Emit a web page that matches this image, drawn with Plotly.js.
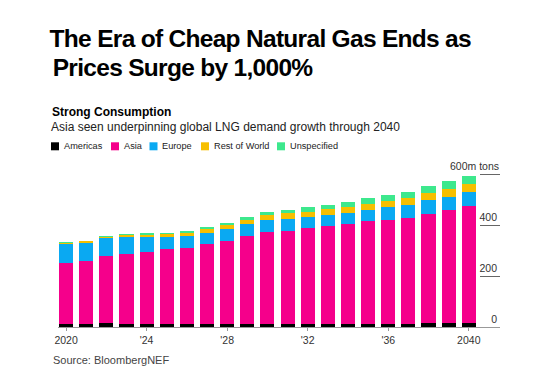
<!DOCTYPE html>
<html>
<head>
<meta charset="utf-8">
<script src="https://cdn.plot.ly/plotly-3.0.1.min.js"></script>
<style>
  html, body { margin: 0; padding: 0; background: #fff; }
  #chart { width: 558px; height: 384px; }
  .annotation[data-index="0"] text, .annotation[data-index="1"] text { letter-spacing: -0.7px; }
</style>
</head>
<body>
<div id="chart"></div>
<script>
// ---- data (million tons of LNG demand) ----
const years = [2020,2021,2022,2023,2024,2025,2026,2027,2028,2029,2030,2031,2032,2033,2034,2035,2036,2037,2038,2039,2040];
const americas    = [12,12,17,12,12,12,12,12,12,12,12,12,13,13,13,13,13,13,15,15,16];
const asia        = [239,247,263,275,285,296,301,315,328,346,363,368,376,383,392,403,410,418,432,444,459];
const europe      = [76,71,70,67,59,47,45,44,47,46,47,47,46,47,46,43,48,49,55,55,56];
const restOfWorld = [4,8,3,7,7,11,13,14,14,18,20,21,20,20,21,25,25,28,27,29,33];
const unspecified = [5,2,7,6,7,6,8,9,9,13,13,12,16,18,21,24,24,23,28,32,32];

const seriesNames  = ["Americas","Asia","Europe","Rest of World","Unspecified"];
const seriesValues = [americas, asia, europe, restOfWorld, unspecified];
const xTickVals = [2020,2024,2028,2032,2036,2040];
const xTickText = ["2020","'24","'28","'32","'36","2040"];
const yTickVals = [0,200,400,600];
const yTickText = ["0","200","400",""];   // top label carries the unit, drawn below
const yTopLabel = "600m tons";

const titleLines = ["The Era of Cheap Natural Gas Ends as","Prices Surge by 1,000%"];
const subtitle = "Strong Consumption";
const subtitle2 = "Asia seen underpinning global LNG demand growth through 2040";
const source = "Source: BloombergNEF";

// ---- styles ----
const colors = ["#000000","#f5008b","#0aa9f2","#f7bf00","#3de88d"];
const FONT = "Liberation Sans, Arial, Helvetica, sans-serif";
const L = 58, R = 500, T = 150, B = 327;
const UNIT_PX = 0.25383;               // pixels per million tons
const yMax = (B - T) / UNIT_PX;
const px2x = p => (p - L) / (R - L);
const px2y = p => (B - p) / (B - T);

const traces = seriesNames.map((name, i) => ({
  type: "bar",
  name: name,
  x: years,
  y: seriesValues[i],
  marker: { color: colors[i], line: { width: 0 } },
  hoverinfo: "x+y+name"
}));

const annotations = [];
// title lines: centred on their target span (letter-spacing tightened via CSS)
const titleCenterX = [260.5, 182];
const titleY = [38.5, 67];
titleLines.forEach((t, i) => annotations.push({
  text: "<b>" + t + "</b>", xref: "paper", yref: "paper",
  x: px2x(titleCenterX[i]), y: px2y(titleY[i]), xanchor: "center", yanchor: "middle",
  showarrow: false, font: { family: FONT, size: 24.5, color: "#000" }
}));
annotations.push({
  text: "<b>" + subtitle + "</b>", xref: "paper", yref: "paper",
  x: px2x(50), y: px2y(111.5), xanchor: "left", yanchor: "middle",
  showarrow: false, font: { family: FONT, size: 12, color: "#000" }
});
annotations.push({
  text: subtitle2, xref: "paper", yref: "paper",
  x: px2x(49), y: px2y(127.5), xanchor: "left", yanchor: "middle",
  showarrow: false, font: { family: FONT, size: 12, color: "#222" }
});
annotations.push({
  text: source, xref: "paper", yref: "paper",
  x: px2x(51), y: px2y(359.5), xanchor: "left", yanchor: "middle",
  showarrow: false, font: { family: FONT, size: 11, color: "#444" }
});
// unit label on the top y tick, placed on the y scale
annotations.push({
  text: yTopLabel, xref: "paper", yref: "y",
  x: 1, y: yTickVals[yTickVals.length - 1], xanchor: "right", yanchor: "bottom",
  xshift: 1, yshift: 1,
  showarrow: false, font: { family: FONT, size: 10.5, color: "#333" }
});

// legend (manual, to match reference layout)
const legendSquareX = [51, 111, 149.5, 201, 277];
const legendY = 146.3;
const shapes = [];
seriesNames.forEach((name, i) => {
  const sx = legendSquareX[i];
  shapes.push({
    type: "rect", xref: "paper", yref: "paper",
    x0: px2x(sx), x1: px2x(sx + 8), y0: px2y(legendY + 4), y1: px2y(legendY - 4),
    fillcolor: colors[i], line: { width: 0 }
  });
  annotations.push({
    text: name, xref: "paper", yref: "paper",
    x: px2x(sx + 10.5), y: px2y(legendY), xanchor: "left", yanchor: "middle",
    showarrow: false, font: { family: FONT, size: 9.2, color: "#222" }
  });
});

const layout = {
  width: 558, height: 384,
  margin: { l: L, r: 558 - R, t: T, b: 384 - B, pad: 0 },
  paper_bgcolor: "#fff", plot_bgcolor: "#fff",
  barmode: "stack", bargap: 0.3,
  showlegend: false,
  font: { family: FONT, size: 10, color: "#333" },
  xaxis: {
    range: [2019.6, 2041.55], fixedrange: true,
    tickvals: xTickVals, ticktext: xTickText,
    showgrid: false, zeroline: false,
    showline: true, linecolor: "#999", linewidth: 1,
    ticks: "outside", ticklen: 3, tickcolor: "#999", tickwidth: 1,
    tickfont: { family: FONT, size: 10.5, color: "#333" }
  },
  yaxis: {
    side: "right", range: [0, yMax], fixedrange: true,
    tickvals: yTickVals, ticktext: yTickText,
    showgrid: false, zeroline: false, showline: false,
    ticks: "inside", ticklen: 20, tickcolor: "#666", tickwidth: 1,
    ticklabelposition: "inside top",
    tickfont: { family: FONT, size: 10.5, color: "#333" }
  },
  shapes: shapes,
  annotations: annotations
};

Plotly.newPlot("chart", traces, layout, { displayModeBar: false, staticPlot: true });
</script>
</body>
</html>
